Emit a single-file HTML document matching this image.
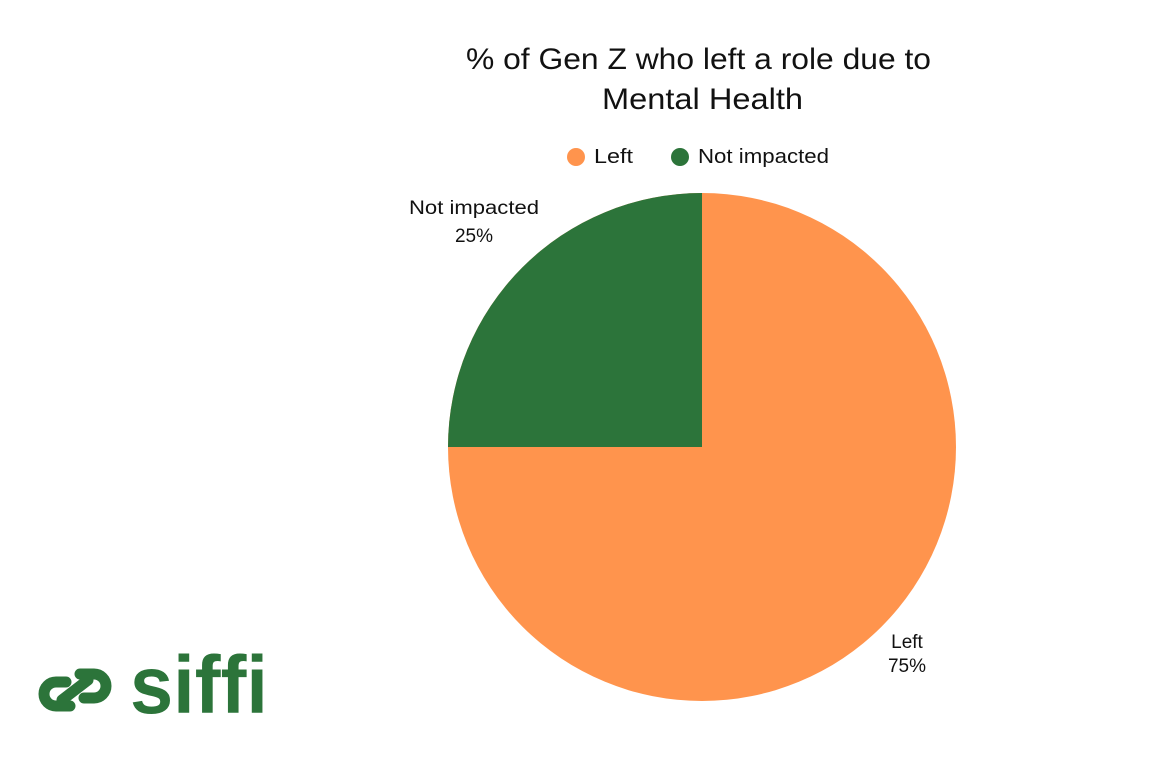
<!DOCTYPE html>
<html><head><style>
body{margin:0;width:1150px;height:764px;background:#fff;overflow:hidden;font-family:"Liberation Sans",sans-serif;}
</style></head><body>
<svg width="1150" height="764" xmlns="http://www.w3.org/2000/svg" style="position:absolute;left:0;top:0">
<text x="466" y="69" font-size="30" textLength="465" lengthAdjust="spacingAndGlyphs" fill="#111">% of Gen Z who left a role due to</text>
<text x="602" y="109" font-size="30" textLength="201" lengthAdjust="spacingAndGlyphs" fill="#111">Mental Health</text>
<circle cx="576" cy="157" r="9" fill="#FF944D"/>
<text x="594" y="163" font-size="20" textLength="39" lengthAdjust="spacingAndGlyphs" fill="#111">Left</text>
<circle cx="680" cy="157" r="9" fill="#2C743A"/>
<text x="698" y="163" font-size="20" textLength="131" lengthAdjust="spacingAndGlyphs" fill="#111">Not impacted</text>
<circle cx="702" cy="447" r="254" fill="#FF944D"/>
<path d="M702,447 L448,447 A254,254 0 0 1 702,193 Z" fill="#2C743A"/>
<text x="409" y="214" font-size="19" textLength="130" lengthAdjust="spacingAndGlyphs" fill="#111">Not impacted</text>
<text x="474" y="242" font-size="19" text-anchor="middle" fill="#111">25%</text>
<text x="907" y="648" font-size="19" text-anchor="middle" fill="#111">Left</text>
<text x="907" y="672" font-size="19" text-anchor="middle" fill="#111">75%</text>
<g fill="none" stroke="#2C743A" stroke-width="11" stroke-linecap="round">
<path d="M70,706 L56,706 A12,12 0 0 1 56,682 L66,682"/>
<path d="M80,674 L94,674 A12,12 0 0 1 94,698 L84,698"/>
<path d="M62,700 L88,680"/>
</g>
<text x="130" y="713" font-size="82" font-weight="bold" fill="#2C743A" textLength="138" lengthAdjust="spacingAndGlyphs">siffi</text>
</svg>
</body></html>
